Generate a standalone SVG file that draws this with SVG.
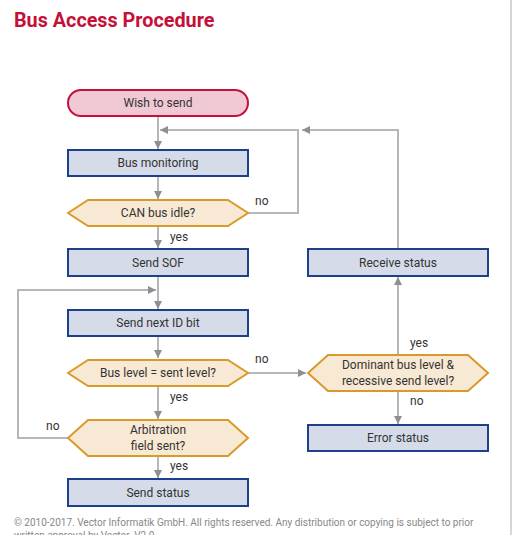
<svg xmlns="http://www.w3.org/2000/svg" width="513" height="535" viewBox="0 0 513 535">
<style>
.t{font-family:Roboto,"Liberation Sans",sans-serif;font-size:12px;fill:#333;text-anchor:middle}
.l{font-family:Roboto,"Liberation Sans",sans-serif;font-size:12px;fill:#333}
.box{fill:#d5dbe8;stroke:#1e3f8a;stroke-width:2}
.dec{fill:#f8e9d4;stroke:#d99a2b;stroke-width:2}
.c{fill:none;stroke:#b4b8bb;stroke-width:2}
.f{font-family:Roboto,"Liberation Sans",sans-serif;font-size:10px;fill:#888}
</style>
<defs>
<marker id="ah" viewBox="0 0 10 10" refX="10" refY="5" markerWidth="4" markerHeight="4" orient="auto" markerUnits="strokeWidth">
<path d="M0,0 L10,5 L0,10 z" fill="#8c9094"/>
</marker>
</defs>
<rect x="0" y="0" width="513" height="535" fill="#fff"/>
<line x1="511" y1="0" x2="511" y2="535" stroke="#c8c8c8" stroke-width="1.5"/>
<text x="14" y="27" style="font-family:Roboto,'Liberation Sans',sans-serif;font-size:19.8px;font-weight:bold;fill:#c5103a">Bus Access Procedure</text>

<g id="connectors">
<path class="c" d="M158,116 V149" marker-end="url(#ah)"/>
<path class="c" d="M158,176 V199" marker-end="url(#ah)"/>
<path class="c" d="M158,226 V248" marker-end="url(#ah)"/>
<path class="c" d="M158,276 V309" marker-end="url(#ah)"/>
<path class="c" d="M158,336 V358" marker-end="url(#ah)"/>
<path class="c" d="M158,386 V419" marker-end="url(#ah)"/>
<path class="c" d="M158,456 V478" marker-end="url(#ah)"/>
<path class="c" d="M248,213 H298 V130 H160" marker-end="url(#ah)"/>
<path class="c" d="M398,249 V130 H302" marker-end="url(#ah)"/>
<path class="c" d="M68,438 H18 V290 H156" marker-end="url(#ah)"/>
<path class="c" d="M248,373 H306" marker-end="url(#ah)"/>
<path class="c" d="M398,354 V277" marker-end="url(#ah)"/>
<path class="c" d="M398,391 V424" marker-end="url(#ah)"/>
<text class="l" x="255" y="205">no</text>
<text class="l" x="170" y="241">yes</text>
<text class="l" x="255" y="363">no</text>
<text class="l" x="170" y="401">yes</text>
<text class="l" x="46" y="430">no</text>
<text class="l" x="170" y="470">yes</text>
<text class="l" x="410" y="347">yes</text>
<text class="l" x="410" y="405">no</text>
</g>

<g id="wish"><rect x="68" y="90" width="180" height="26" rx="13" fill="#f0c9d5" stroke="#c5103a" stroke-width="2"/><text class="t" x="158" y="106.5">Wish to send</text></g>
<g id="busmon"><rect class="box" x="68" y="150" width="180" height="26"/><text class="t" x="158" y="166.5">Bus monitoring</text></g>
<g id="idle"><polygon class="dec" points="68,213 88,200 228,200 248,213 228,226 88,226"/><text class="t" x="158" y="216.5">CAN bus idle?</text></g>
<g id="sof"><rect class="box" x="68" y="249" width="180" height="27"/><text class="t" x="158" y="266.5">Send SOF</text></g>
<g id="nextid"><rect class="box" x="68" y="310" width="180" height="26"/><text class="t" x="158" y="326.5">Send next ID bit</text></g>
<g id="buslevel"><polygon class="dec" points="68,373 88,360 228,360 248,373 228,386 88,386"/><text class="t" x="158" y="376.5">Bus level = sent level?</text></g>
<g id="arb"><polygon class="dec" points="68,438 88,420 228,420 248,438 228,456 88,456"/><text class="t" x="158" y="434">Arbitration</text><text class="t" x="158" y="450">field sent?</text></g>
<g id="sendstatus"><rect class="box" x="68" y="479" width="180" height="27"/><text class="t" x="158" y="496.5">Send status</text></g>
<g id="receive"><rect class="box" x="308" y="249" width="180" height="27"/><text class="t" x="398" y="266.5">Receive status</text></g>
<g id="dominant"><polygon class="dec" points="308,373 328,355 468,355 488,373 468,391 328,391"/><text class="t" x="398" y="369">Dominant bus level &amp;</text><text class="t" x="398" y="385">recessive send level?</text></g>
<g id="error"><rect class="box" x="308" y="425" width="180" height="26"/><text class="t" x="398" y="441.5">Error status</text></g>

<text class="f" x="14" y="526">© 2010-2017. Vector Informatik GmbH. All rights reserved. Any distribution or copying is subject to prior</text>
<text class="f" x="14" y="539">written approval by Vector. V2.0</text>
</svg>
